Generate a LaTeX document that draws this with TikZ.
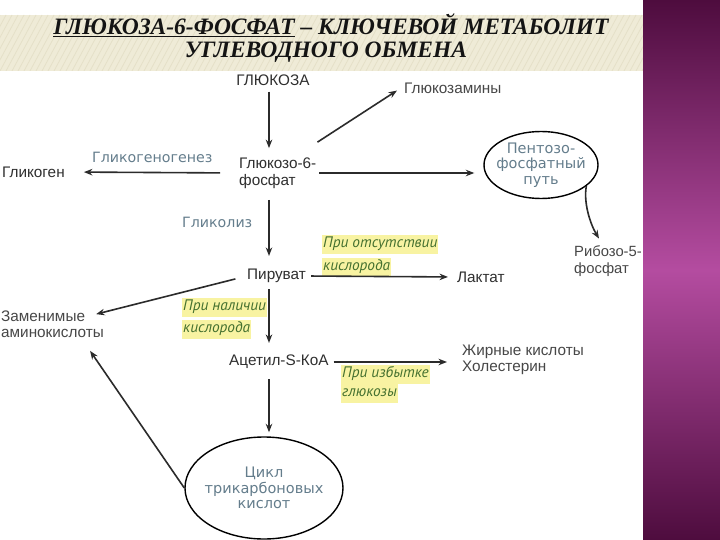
\documentclass[tikz,border=0pt]{standalone}
\usepackage{fontspec}
\setmainfont{Liberation Sans}
\newfontfamily\lblfont{DejaVu Sans}
\newfontfamily\hlfont{PT Sans}
\newfontfamily\ttlfont{Liberation Serif}
\usetikzlibrary{arrows.meta,shapes.geometric,calc}
\definecolor{nodetxt}{HTML}{2F2F2F}
\definecolor{softtxt}{HTML}{474747}
\definecolor{lbltxt}{HTML}{647D8C}
\definecolor{greentxt}{HTML}{44702F}
\definecolor{hl}{HTML}{F8F3A2}
\definecolor{arrcol}{HTML}{2B2B2B}
\definecolor{bandbg}{HTML}{EFEBD7}
\definecolor{bandline}{HTML}{E5E0C8}
\definecolor{purpdark}{HTML}{4E0C3E}
\definecolor{purpmid}{HTML}{B44CA0}
\definecolor{ttlcol}{HTML}{141414}
\begin{document}
\begin{tikzpicture}[x=1pt,y=-1pt,
  every node/.style={inner sep=0pt},
  mnode/.style={text=nodetxt,font=\fontsize{15.3}{17.5}\selectfont,align=left},
  snode/.style={text=softtxt,font=\fontsize{15.3}{16.5}\selectfont,align=left},
  lbl/.style={text=lbltxt,font=\lblfont\fontsize{14.2}{15}\selectfont},
  hlt/.style={fill=hl,text=greentxt,font=\hlfont\itshape\fontsize{15.3}{15}\selectfont,inner xsep=1pt,inner ysep=2.5pt,anchor=west,text height=10.5pt,text depth=3.5pt},
  arr/.style={draw=arrcol,line width=1.6pt,-{Stealth[length=8.5pt,width=6.5pt]}},
  ovl/.style={ellipse,draw=black,line width=1.4pt,text=lbltxt,font=\lblfont\fontsize{14.5}{15.5}\selectfont,align=center,inner sep=-30pt},
  ttl/.style={font=\ttlfont\bfseries\itshape\fontsize{23.5}{26}\selectfont,text=ttlcol}
]
\useasboundingbox (0,0) rectangle (720,540);
\fill[white] (0,0) rectangle (720,540);
% title band
\fill[bandbg] (0,15) rectangle (643,71);
\begin{scope}
\clip (0,15) rectangle (643,71);
\foreach \i in {-60,-54,...,660} \draw[bandline,line width=0.8pt] (\i,71) -- (\i+30,15);
\end{scope}
% purple band
\shade[top color=purpdark,bottom color=purpdark,middle color=purpmid] (643,0) rectangle (720,540);
% title
\node[ttl] (t1) at (331,25) {\underline{ГЛЮКОЗА-6-ФОСФАТ} – КЛЮЧЕВОЙ МЕТАБОЛИТ};
\node[ttl] (t2) at (326,52) {УГЛЕВОДНОГО ОБМЕНА};
% axis
\coordinate (axis) at (269,0);
% nodes
\node[mnode] (glu) at (273,80) {ГЛЮКОЗА};
\node[snode,anchor=west] (gam) at (404,88) {Глюкозамины};
\node[mnode,anchor=west] (g6p) at (239,173) {Глюкозо-6-\\фосфат};
\node[mnode,anchor=west] (glyc) at (2,172) {Гликоген};
\node[lbl,anchor=west] (glgn) at (92,157) {Гликогеногенез};
\node[ovl,minimum width=114pt,minimum height=67pt] (pent) at (541,165) {Пентозо-\\фосфатный\\путь};
\node[snode,anchor=west,font=\fontsize{14.8}{16.5}\selectfont] (rib) at (574,261) {Рибозо-5-\\фосфат};
\node[lbl,anchor=west] (glz) at (182,222) {Гликолиз};
\node[mnode,anchor=west] (pyr) at (247,276) {Пируват};
\node[mnode,anchor=west] (lac) at (457,277) {Лактат};
\node[hlt] (noa) at (322,244) {При отсутствии};
\node[hlt] (nob) at (322,267) {кислорода};
\node[snode,anchor=west] (amino) at (1,324) {Заменимые\\аминокислоты};
\node[hlt] (oxa) at (182,307) {При наличии};
\node[hlt] (oxb) at (182,329) {кислорода};
\node[mnode,anchor=west] (acet) at (229,362) {Ацетил-S-КоА};
\node[snode,anchor=west] (fat) at (462,360) {Жирные кислоты\\Холестерин};
\node[hlt] (exa) at (341,374) {При избытке};
\node[hlt] (exb) at (341,393) {глюкозы};
\node[ovl,minimum width=158pt,minimum height=102pt] (tca) at (264,488) {Цикл\\трикарбоновых\\кислот};
% connectors
\draw[arr,shorten <=6pt,shorten >=9pt] (glu.south -| axis) -- (g6p.north -| axis);
\draw[arr,shorten <=19pt,shorten >=19pt] (g6p.west) -- (glyc.east);
\draw[arr,shorten <=3pt,shorten >=9pt] (g6p.east) -- (pent.west |- g6p.east);
\draw[arr] ($(g6p.north east)+(1,-15)$) -- ($(gam.south west)+(-7,-3)$);
\draw[arr] (pent.-25) .. controls ($(pent.-25)+(-3,16)$) and ($(rib.north west)+(16,-22)$) .. ($(rib.north west)+(25,-7)$);
\draw[arr,shorten <=11pt,shorten >=13pt] (g6p.south -| axis) -- (pyr.north -| axis);
\draw[arr,shorten <=5pt,shorten >=9pt] (pyr.east) -- (lac.west);
\draw[arr,shorten <=12pt] (pyr.west) -- ($(amino.north east)+(-8,4)$);
\draw[arr,shorten <=6pt,shorten >=12pt] (pyr.south -| axis) -- (acet.north -| axis);
\draw[arr,shorten <=5pt,shorten >=15pt] (acet.east) -- (fat.west |- acet.east);
\draw[arr,shorten <=10pt,shorten >=4pt] (acet.south -| axis) -- (tca.north -| axis);
\draw[arr] (tca.west) -- ($(amino.south east)+(-14,13)$);
\end{tikzpicture}
\end{document}
